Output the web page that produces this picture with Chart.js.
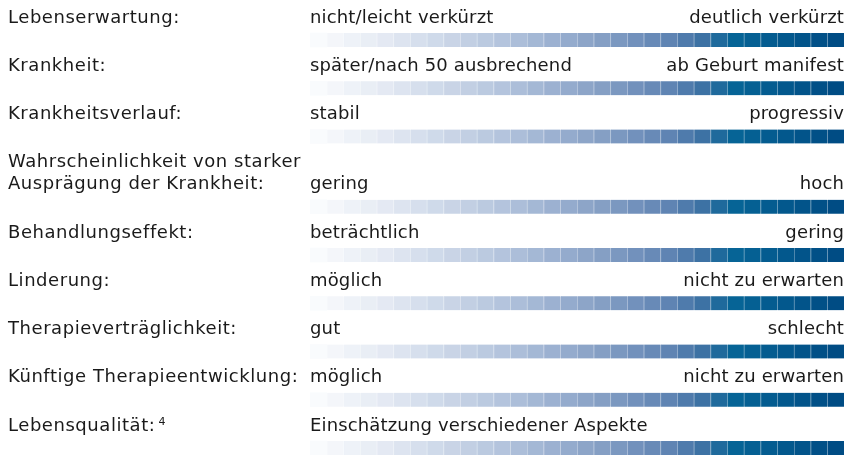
<!DOCTYPE html>
<html>
<head>
<meta charset="utf-8">
<script src="https://cdn.jsdelivr.net/npm/chart.js@4.4.1/dist/chart.umd.min.js"></script>
<style>
    html, body { margin: 0; padding: 0; background: #ffffff; }
    #wrap { width: 858px; height: 455px; }
</style>
</head>
<body>
<div id="wrap"><canvas id="scaleChart" width="858" height="455"></canvas></div>
<script>
//#region Data

// Row labels (an array means the label runs over two lines).
const rowLabels = [
    'Lebenserwartung:',
    'Krankheit:',
    'Krankheitsverlauf:',
    ['Wahrscheinlichkeit von starker', 'Ausprägung der Krankheit:'],
    'Behandlungseffekt:',
    'Linderung:',
    'Therapieverträglichkeit:',
    'Künftige Therapieentwicklung:',
    'Lebensqualität:'
];

// Footnote marks after the row label.
const rowNotes = ['', '', '', '', '', '', '', '', '4'];

// Text at the light (left) end of each scale.
const lowEndLabels = [
    'nicht/leicht verkürzt',
    'später/nach 50 ausbrechend',
    'stabil',
    'gering',
    'beträchtlich',
    'möglich',
    'gut',
    'möglich',
    'Einschätzung verschiedener Aspekte'
];

// Text at the dark (right) end of each scale.
const highEndLabels = [
    'deutlich verkürzt',
    'ab Geburt manifest',
    'progressiv',
    'hoch',
    'gering',
    'nicht zu erwarten',
    'schlecht',
    'nicht zu erwarten',
    ''
];

// Every scale is split into equal steps.
const segmentCount = 32;
const segmentValue = 1;

//#endregion

//#region Style

// Colour stops along the scale (fraction, colour).
const colorStops = [
    [0.00, [252, 253, 254]],
    [0.15, [226, 232, 242]],
    [0.35, [182, 198, 222]],
    [0.55, [132, 158, 196]],
    [0.68, [92, 130, 178]],
    [0.74, [58, 112, 162]],
    [0.79, [6, 101, 151]],
    [1.00, [0, 74, 130]]
];

const textFont = '18px "DejaVu Sans"';
const textColor = '#1a1a1a';
const labelLineGap = 22;   // px between lines of a two-line label
const textAbove = 22;      // px from bar centre up to its text line
const rowPitch = 48.24;    // px between rows

function mixColor(t) {
    for (let i = 1; i < colorStops.length; i++) {
        const [p1, c1] = colorStops[i];
        const [p0, c0] = colorStops[i - 1];
        if (t <= p1) {
            const k = (t - p0) / (p1 - p0);
            return c0.map((v, j) => Math.round(v + (c1[j] - v) * k));
        }
    }
    return colorStops[colorStops.length - 1][1];
}

function rgb(c) { return 'rgb(' + c.join(',') + ')'; }
function lighten(c, a) { return rgb(c.map(v => Math.round(v + (255 - v) * a))); }

//#endregion

//#region Chart

// Position of each row on the y axis, two-line labels push the rest down.
const rowPositions = [];
let extra = 0;
rowLabels.forEach((label, i) => {
    if (Array.isArray(label)) extra += (label.length - 1) * labelLineGap / rowPitch;
    rowPositions.push(i + extra);
});

const datasets = [];
for (let s = 0; s < segmentCount; s++) {
    const c = mixColor((s + 0.5) / segmentCount);
    datasets.push({
        data: rowPositions.map(pos => ({ x: segmentValue, y: pos })),
        backgroundColor: rgb(c),
        borderColor: lighten(c, 0.5),
        borderWidth: { left: s === 0 ? 0 : 1, right: 0, top: 0, bottom: 0 },
        borderSkipped: false,
        barThickness: 14
    });
}

// Draws the row texts next to and above the scales.
const scaleTextPlugin = {
    id: 'scaleText',
    afterDatasetsDraw(chart) {
        const ctx = chart.ctx;
        const xs = chart.scales.x;
        const ys = chart.scales.y;
        const left = xs.getPixelForValue(0);
        const right = xs.getPixelForValue(segmentCount * segmentValue);
        ctx.save();
        ctx.font = textFont;
        ctx.fillStyle = textColor;
        ctx.textBaseline = 'middle';
        rowPositions.forEach((pos, i) => {
            const textY = ys.getPixelForValue(pos) - textAbove;
            const lines = Array.isArray(rowLabels[i]) ? rowLabels[i] : [rowLabels[i]];
            ctx.textAlign = 'left';
            ctx.letterSpacing = '0.55px';
            lines.forEach((line, k) => {
                ctx.fillText(line, 8, textY - (lines.length - 1 - k) * labelLineGap);
            });
            if (rowNotes[i]) {
                const w = ctx.measureText(lines[lines.length - 1]).width;
                ctx.font = '11px "DejaVu Sans"';
                ctx.letterSpacing = '0px';
                ctx.fillText(rowNotes[i], 8 + w + 3, textY - 4);
                ctx.font = textFont;
            }
            ctx.letterSpacing = '0.15px';
            ctx.fillText(lowEndLabels[i], left, textY);
            ctx.textAlign = 'right';
            ctx.fillText(highEndLabels[i], right, textY);
        });
        ctx.restore();
    }
};

const lastPos = rowPositions[rowPositions.length - 1];

const config = {
    type: 'bar',
    data: { datasets: datasets },
    options: {
        indexAxis: 'y',
        responsive: false,
        animation: false,
        layout: { padding: { left: 310, right: 14, top: 0, bottom: 0 } },
        plugins: {
            legend: { display: false },
            tooltip: { enabled: false }
        },
        scales: {
            x: {
                type: 'linear',
                stacked: true,
                display: false,
                offset: false,
                min: 0,
                max: segmentCount * segmentValue
            },
            y: {
                type: 'linear',
                stacked: true,
                display: false,
                offset: false,
                reverse: true,
                min: -40 / rowPitch,
                max: lastPos + 7 / rowPitch
            }
        }
    },
    plugins: [scaleTextPlugin]
};

new Chart(document.getElementById('scaleChart'), config);

//#endregion
</script>
</body>
</html>
